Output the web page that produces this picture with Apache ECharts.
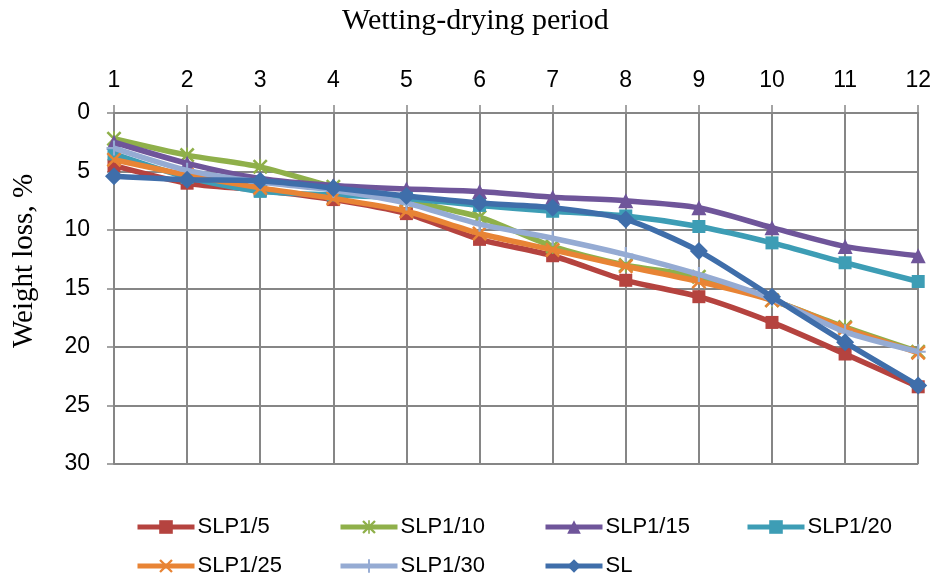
<!DOCTYPE html>
<html><head><meta charset="utf-8">
<script src="https://cdn.jsdelivr.net/npm/echarts@6/dist/echarts.min.js"></script>
<style>html,body{margin:0;padding:0;background:#fff}#c{width:934px;height:580px}</style>
</head><body><div id="c"></div>
<script>
var periods = ['1','2','3','4','5','6','7','8','9','10','11','12'];
var seriesNames = ['SLP1/5','SLP1/10','SLP1/15','SLP1/20','SLP1/25','SLP1/30','SL'];
var slp1_5  = [4.5, 6.0, 6.6, 7.4, 8.6, 10.8, 12.2, 14.3, 15.7, 17.9, 20.6, 23.4];
var slp1_10 = [2.2, 3.6, 4.6, 6.3, 7.5, 8.9, 11.4, 13.0, 14.0, 16.0, 18.3, 20.4];
var slp1_15 = [2.5, 4.3, 5.6, 6.2, 6.5, 6.7, 7.2, 7.5, 8.1, 9.8, 11.4, 12.2];
var slp1_20 = [3.5, 5.5, 6.7, 7.0, 7.3, 7.9, 8.4, 8.8, 9.7, 11.1, 12.8, 14.4];
var slp1_25 = [4.0, 5.3, 6.4, 7.3, 8.4, 10.3, 11.7, 13.1, 14.4, 16.0, 18.4, 20.5];
var slp1_30 = [3.0, 4.9, 5.9, 6.6, 7.7, 9.5, 10.7, 12.1, 13.8, 15.9, 18.7, 20.4];
var sl      = [5.4, 5.7, 5.8, 6.4, 7.1, 7.7, 8.1, 9.1, 11.8, 15.7, 19.6, 23.3];
var yTicks = [0, 5, 10, 15, 20, 25, 30];

var dataSets = [slp1_5, slp1_10, slp1_15, slp1_20, slp1_25, slp1_30, sl];
var colors = ['#B5433F', '#8FB04A', '#6F559A', '#3D9DB5', '#E88435', '#95ABD3', '#3F6EAA'];
var X = 'path://M0,1.2 L1.2,0 L5,3.8 L8.8,0 L10,1.2 L6.2,5 L10,8.8 L8.8,10 L5,6.2 L1.2,10 L0,8.8 L3.8,5Z';
var AST = 'path://M0,1.2 L1.2,0 L5,3.8 L8.8,0 L10,1.2 L6.2,5 L10,8.8 L8.8,10 L5,6.2 L1.2,10 L0,8.8 L3.8,5Z M4.4,0 L5.6,0 L5.6,10 L4.4,10Z';
var PLUS = 'path://M4.3,0 L5.7,0 L5.7,4.3 L10,4.3 L10,5.7 L5.7,5.7 L5.7,10 L4.3,10 L4.3,5.7 L0,5.7 L0,4.3 L4.3,4.3Z';
var symbols = ['rect', AST, 'triangle', 'rect', X, PLUS, 'diamond'];
var sizes = [13, 15, 15, 13, 15, 15, 18];

var legendPos = [[135,516],[338,516],[543,516],[745,516],[135,555],[338,555],[543,555]];
var legends = seriesNames.map(function(n, i){
  return {
    data: [n], left: legendPos[i][0], top: legendPos[i][1], padding: 0,
    itemWidth: 57, itemHeight: 17, itemGap: 4,
    lineStyle: {width: 5},
    textStyle: {fontFamily: 'Liberation Sans, Arial, sans-serif', fontSize: 22, color: '#000', padding: [0,0,0,-2]}
  };
});

var chart = echarts.init(document.getElementById('c'), null, {renderer: 'canvas'});
chart.setOption({
  animation: false,
  backgroundColor: '#fff',
  title: {
    text: 'Wetting-drying period', left: 342, top: 6, padding: 0,
    textStyle: {fontFamily: 'Liberation Serif, Times New Roman, serif', fontSize: 30, fontWeight: 'normal', color: '#000'}
  },
  graphic: [{
    type: 'text', x: 24, y: 261, rotation: Math.PI / 2,
    style: {text: 'Weight loss, %', fontFamily: 'Liberation Serif, Times New Roman, serif', fontSize: 29,
      fill: '#000', textAlign: 'center', textVerticalAlign: 'middle'}
  }],
  legend: legends,
  grid: {left: 114, right: 14, top: 113, bottom: 116},
  xAxis: {
    type: 'category', data: periods, position: 'top', boundaryGap: false,
    axisLine: {lineStyle: {color: '#868686', width: 2}},
    axisTick: {show: true, length: 8, lineStyle: {color: '#868686', width: 1.5}},
    axisLabel: {fontFamily: 'Liberation Sans, Arial, sans-serif', fontSize: 23, color: '#000', margin: 21},
    splitLine: {show: true, lineStyle: {color: '#868686', width: 2}}
  },
  yAxis: {
    type: 'value', inverse: true, min: 0, max: 30, interval: 5,
    axisLine: {show: true, lineStyle: {color: '#868686', width: 2}},
    axisTick: {show: true, length: 7, lineStyle: {color: '#868686', width: 1.5}},
    axisLabel: {fontFamily: 'Liberation Sans, Arial, sans-serif', fontSize: 23, color: '#000', margin: 24,
      formatter: function(v){ return yTicks.indexOf(v) >= 0 ? String(v) : ''; }},
    splitLine: {show: true, lineStyle: {color: '#868686', width: 2}}
  },
  series: seriesNames.map(function(n, i){
    return {
      name: n, type: 'line', data: dataSets[i], smooth: 0.25,
      symbol: symbols[i], symbolSize: sizes[i], showSymbol: true,
      lineStyle: {color: colors[i], width: 5.5},
      itemStyle: {color: colors[i], borderColor: colors[i], borderWidth: 0},
      z: 2 + i
    };
  })
});
</script>
</body></html>
